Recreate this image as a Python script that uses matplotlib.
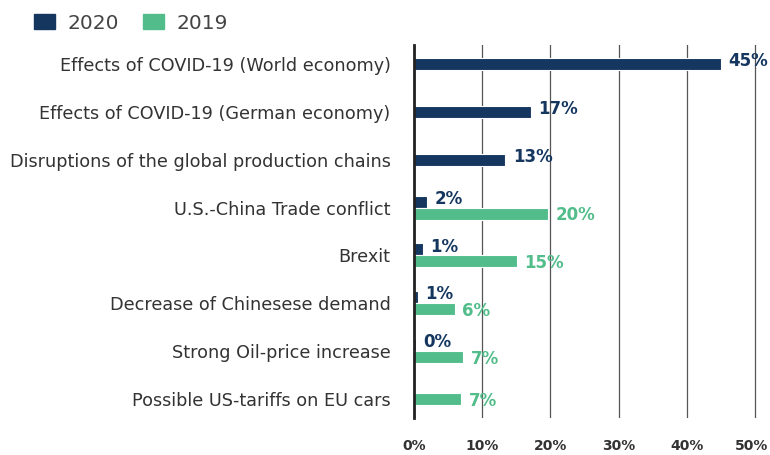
import numpy as np
import matplotlib.pyplot as plt
import matplotlib.transforms as mtransforms
from matplotlib.patches import Patch

plt.rcParams['font.family'] = ['DejaVu Sans']

categories = ['Effects of COVID-19 (World economy)',
              'Effects of COVID-19 (German economy)',
              'Disruptions of the global production chains',
              'U.S.-China Trade conflict',
              'Brexit',
              'Decrease of Chinesese demand',
              'Strong Oil-price increase',
              'Possible US-tariffs on EU cars']
v2020 = [45, 17.1, 13.4, 1.9, 1.3, 0.6, 0.3, np.nan]
v2019 = [np.nan, np.nan, np.nan, 19.6, 15.1, 6.0, 7.2, 6.9]
lab2020 = ['45%', '17%', '13%', '2%', '1%', '1%', '0%', '']
lab2019 = ['', '', '', '20%', '15%', '6%', '7%', '7%']

c2020 = '#14365f'
c2019 = '#52bd8a'

fig = plt.figure(figsize=(7.7, 4.55), dpi=100)
ax = fig.add_axes([0.5377, 0.0813, 0.4473, 0.82])

h = 0.25
y = np.arange(len(categories))
for i in y:
    a, b = v2020[i], v2019[i]
    if not np.isnan(a) and not np.isnan(b):
        ya, yb = i - h / 2, i + h / 2
    else:
        ya = yb = i
    if not np.isnan(a):
        ax.barh(ya, a, height=h, color=c2020, edgecolor='white', linewidth=0.8, zorder=3)
        ax.text(a + 1.1, ya - 0.06, lab2020[i], color=c2020, fontsize=12,
                fontweight='bold', va='center', ha='left')
    if not np.isnan(b):
        ax.barh(yb, b, height=h, color=c2019, edgecolor='white', linewidth=0.8, zorder=3)
        ax.text(b + 1.1, yb + 0.04, lab2019[i], color=c2019, fontsize=12,
                fontweight='bold', va='center', ha='left')

ax.set_xlim(0, 50.5)
ax.set_ylim(7.4, -0.4)
ax.set_yticks(y)
ax.set_yticklabels(categories, fontsize=12.7, color='#333333')
ax.set_xticks(range(0, 51, 10))
ax.set_xticklabels([f'{t}%' for t in range(0, 51, 10)], fontsize=10,
                   fontweight='bold', color='#333333')
ax.tick_params(axis='both', length=0)
ax.tick_params(axis='x', pad=15)
ax.tick_params(axis='y', pad=17)
# nudge the last tick label so it stays inside the canvas
last = ax.get_xticklabels()[-1]
last.set_transform(last.get_transform() +
                   mtransforms.ScaledTranslation(-3 / 100, 0, fig.dpi_scale_trans))
ax.grid(axis='x', color='#555555', linewidth=0.9, zorder=0)
for s in ['top', 'right', 'bottom']:
    ax.spines[s].set_visible(False)
ax.spines['left'].set_color('#222222')
ax.spines['left'].set_linewidth(2)
ax.spines['left'].set_zorder(4)

handles = [Patch(color=c2020, label='2020'), Patch(color=c2019, label='2019')]
fig.legend(handles=handles, loc='upper left', bbox_to_anchor=(0.021, 1.01), ncol=2,
           frameon=False, fontsize=14.5, handlelength=1.05, handleheight=0.8,
           handletextpad=0.6, columnspacing=1.2, labelcolor='#444444')

fig.savefig('out.png', dpi=100)
